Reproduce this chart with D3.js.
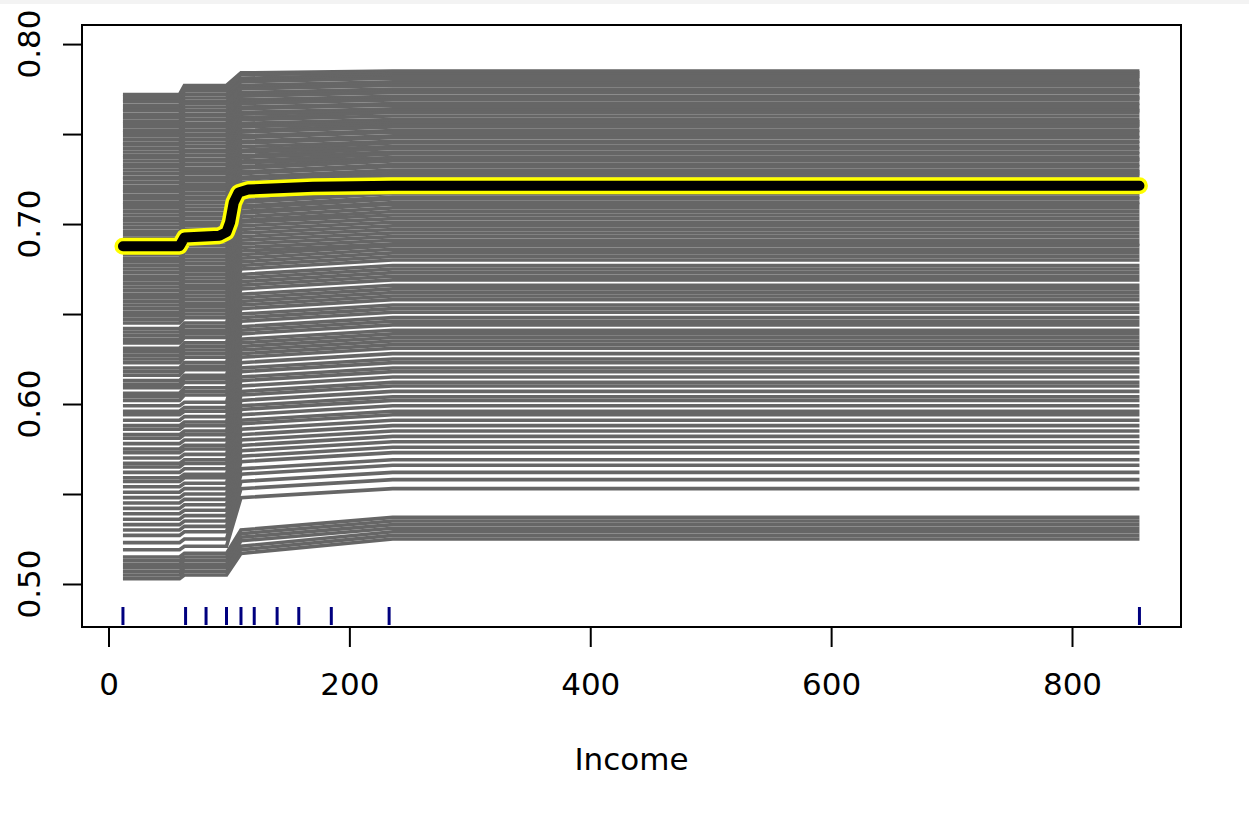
<!DOCTYPE html>
<html>
<head>
<meta charset="utf-8">
<script src="https://cdn.jsdelivr.net/npm/d3@7"></script>
<style>
  body { margin: 0; background: #fff; }
  text { font-family: "DejaVu Sans", sans-serif; }
</style>
</head>
<body>
<div id="ice"></div>
<script>
// income values where the ICE curves change level
const incomeGrid = [12, 59, 63, 98, 110, 236, 856];
// one row per observation: prob at income 12-59, 63-98, 110, 236-856
const iceLevels = [
  [0.772, 0.777, 0.784, 0.785], [0.771, 0.776, 0.783, 0.784], [0.769, 0.774, 0.781, 0.783],
  [0.768, 0.772, 0.780, 0.782], [0.766, 0.770, 0.779, 0.781], [0.764, 0.768, 0.777, 0.779],
  [0.763, 0.767, 0.776, 0.778], [0.761, 0.765, 0.775, 0.777], [0.759, 0.763, 0.773, 0.775],
  [0.757, 0.761, 0.772, 0.774], [0.756, 0.760, 0.771, 0.773], [0.754, 0.758, 0.769, 0.771],
  [0.752, 0.756, 0.768, 0.770], [0.751, 0.754, 0.767, 0.769], [0.749, 0.752, 0.765, 0.767],
  [0.747, 0.750, 0.764, 0.766], [0.745, 0.749, 0.762, 0.764], [0.744, 0.747, 0.761, 0.763],
  [0.742, 0.745, 0.759, 0.762], [0.740, 0.743, 0.758, 0.760], [0.738, 0.741, 0.756, 0.758],
  [0.737, 0.740, 0.755, 0.757], [0.735, 0.738, 0.754, 0.756], [0.733, 0.736, 0.752, 0.755],
  [0.732, 0.735, 0.751, 0.754], [0.730, 0.733, 0.749, 0.752], [0.728, 0.731, 0.748, 0.751],
  [0.726, 0.729, 0.746, 0.749], [0.725, 0.728, 0.745, 0.748], [0.723, 0.726, 0.743, 0.746],
  [0.721, 0.724, 0.741, 0.745], [0.719, 0.722, 0.740, 0.743], [0.718, 0.721, 0.738, 0.742],
  [0.716, 0.719, 0.737, 0.740], [0.714, 0.717, 0.735, 0.739], [0.712, 0.715, 0.734, 0.737],
  [0.711, 0.714, 0.732, 0.736], [0.709, 0.712, 0.731, 0.735], [0.707, 0.710, 0.729, 0.733],
  [0.705, 0.708, 0.728, 0.732], [0.703, 0.706, 0.726, 0.730], [0.702, 0.705, 0.725, 0.729],
  [0.700, 0.703, 0.723, 0.728], [0.698, 0.701, 0.722, 0.727], [0.696, 0.699, 0.721, 0.725],
  [0.694, 0.697, 0.719, 0.724], [0.692, 0.695, 0.718, 0.722], [0.690, 0.693, 0.716, 0.721],
  [0.689, 0.692, 0.715, 0.720], [0.687, 0.690, 0.713, 0.718], [0.685, 0.688, 0.712, 0.717],
  [0.683, 0.686, 0.710, 0.715], [0.681, 0.684, 0.709, 0.714], [0.679, 0.682, 0.707, 0.712],
  [0.677, 0.680, 0.706, 0.711], [0.675, 0.678, 0.704, 0.709], [0.673, 0.676, 0.702, 0.707],
  [0.671, 0.674, 0.701, 0.705], [0.669, 0.672, 0.699, 0.703], [0.667, 0.670, 0.697, 0.701],
  [0.665, 0.668, 0.695, 0.699], [0.663, 0.666, 0.693, 0.697], [0.661, 0.664, 0.691, 0.695],
  [0.659, 0.662, 0.689, 0.693], [0.657, 0.660, 0.687, 0.691], [0.655, 0.658, 0.685, 0.689],
  [0.653, 0.656, 0.683, 0.688], [0.651, 0.654, 0.681, 0.686], [0.649, 0.652, 0.679, 0.684],
  [0.647, 0.650, 0.677, 0.682], [0.645, 0.648, 0.675, 0.680], [0.642, 0.645, 0.672, 0.677],
  [0.640, 0.643, 0.670, 0.675], [0.638, 0.641, 0.668, 0.673], [0.636, 0.639, 0.666, 0.671],
  [0.634, 0.637, 0.664, 0.669], [0.631, 0.634, 0.661, 0.666], [0.629, 0.632, 0.659, 0.664],
  [0.627, 0.630, 0.657, 0.662], [0.625, 0.628, 0.655, 0.660], [0.623, 0.626, 0.653, 0.658],
  [0.620, 0.623, 0.650, 0.655], [0.618, 0.621, 0.648, 0.653], [0.616, 0.619, 0.646, 0.651],
  [0.613, 0.616, 0.643, 0.648], [0.611, 0.614, 0.641, 0.646], [0.609, 0.612, 0.639, 0.644],
  [0.606, 0.609, 0.636, 0.641], [0.604, 0.607, 0.634, 0.639], [0.602, 0.605, 0.632, 0.637],
  [0.599, 0.601, 0.630, 0.635], [0.596, 0.598, 0.628, 0.633], [0.594, 0.596, 0.626, 0.631],
  [0.591, 0.593, 0.623, 0.628], [0.588, 0.590, 0.620, 0.625], [0.586, 0.588, 0.618, 0.623],
  [0.583, 0.585, 0.615, 0.620], [0.581, 0.583, 0.613, 0.618], [0.578, 0.580, 0.610, 0.615],
  [0.575, 0.577, 0.607, 0.612], [0.573, 0.575, 0.605, 0.610], [0.570, 0.572, 0.602, 0.607],
  [0.567, 0.569, 0.599, 0.604], [0.565, 0.567, 0.597, 0.602], [0.562, 0.564, 0.594, 0.599],
  [0.559, 0.561, 0.591, 0.596], [0.557, 0.559, 0.589, 0.594], [0.554, 0.556, 0.586, 0.591],
  [0.551, 0.553, 0.583, 0.588], [0.548, 0.550, 0.580, 0.585], [0.545, 0.547, 0.577, 0.582],
  [0.542, 0.544, 0.574, 0.579], [0.539, 0.541, 0.571, 0.576], [0.536, 0.538, 0.568, 0.573],
  [0.533, 0.535, 0.564, 0.569], [0.530, 0.532, 0.561, 0.566], [0.527, 0.529, 0.557, 0.562],
  [0.523, 0.525, 0.553, 0.558], [0.519, 0.521, 0.548, 0.553],
  [0.515, 0.517, 0.530, 0.537], [0.513, 0.515, 0.528, 0.535], [0.511, 0.513, 0.526, 0.533],
  [0.509, 0.511, 0.524, 0.531], [0.507, 0.509, 0.521, 0.529], [0.505, 0.507, 0.519, 0.527],
  [0.503, 0.505, 0.517, 0.525]
];
// which column of a row is used at each incomeGrid point
const levelAt = [0, 0, 1, 1, 2, 3, 3];

// average curve (black/yellow)
const avgIncome = [12, 59, 63, 92, 98, 101, 104, 108, 116, 170, 236, 856];
const avgProb = [0.6877, 0.6877, 0.6925, 0.6935, 0.6955, 0.701, 0.712, 0.7175, 0.7192, 0.7207, 0.7213, 0.7213];

// deciles of Income for the rug
const rugIncome = [12, 64, 81, 98, 110, 121, 140, 158, 185, 233, 856];

const xTicks = [0, 200, 400, 600, 800];
const yTicks = [0.50, 0.55, 0.60, 0.65, 0.70, 0.75, 0.80];
const yLabels = ["0.50", "", "0.60", "", "0.70", "", "0.80"];

const width = 1249;
const height = 819;
const margin = { top: 25, right: 68, bottom: 192, left: 82 };

const x = d3.scaleLinear().domain([-22, 890.5])
    .range([margin.left, width - margin.right]);
const y = d3.scaleLinear().domain([0.4761, 0.8106])
    .range([height - margin.bottom, margin.top]);

const svg = d3.select("#ice").append("svg")
    .attr("width", width)
    .attr("height", height)
    .attr("viewBox", [0, 0, width, height]);

svg.append("rect")
    .attr("width", width).attr("height", 4)
    .attr("fill", "#f3f3f3");

const line = d3.line().x(d => x(d[0])).y(d => y(d[1]));

// individual curves
svg.append("g")
    .selectAll("path")
    .data(iceLevels)
    .join("path")
    .attr("d", row => line(incomeGrid.map((v, i) => [v, row[levelAt[i]]])))
    .attr("fill", "none")
    .attr("stroke", "#666666")
    .attr("stroke-width", 3.6);

// average curve, yellow halo then black
const avg = avgIncome.map((v, i) => [v, avgProb[i]]);
svg.append("path")
    .attr("d", line(avg))
    .attr("fill", "none")
    .attr("stroke", "#ffff00")
    .attr("stroke-width", 17)
    .attr("stroke-linecap", "round")
    .attr("stroke-linejoin", "round");
svg.append("path")
    .attr("d", line(avg))
    .attr("fill", "none")
    .attr("stroke", "#000")
    .attr("stroke-width", 10)
    .attr("stroke-linecap", "round")
    .attr("stroke-linejoin", "round");

// rug
svg.append("g")
    .selectAll("line")
    .data(rugIncome)
    .join("line")
    .attr("x1", d => x(d)).attr("x2", d => x(d))
    .attr("y1", 607).attr("y2", 625)
    .attr("stroke", "#00007f")
    .attr("stroke-width", 3);

// box
svg.append("rect")
    .attr("x", margin.left).attr("y", margin.top)
    .attr("width", width - margin.right - margin.left)
    .attr("height", height - margin.bottom - margin.top)
    .attr("fill", "none")
    .attr("stroke", "#000")
    .attr("stroke-width", 2);

const xAxis = g => g
    .attr("transform", `translate(0,${height - margin.bottom})`)
    .call(d3.axisBottom(x).tickValues(xTicks).tickSize(20).tickPadding(26))
    .call(g => g.select(".domain").remove())
    .call(g => g.selectAll(".tick line").attr("stroke", "#000").attr("stroke-width", 2))
    .call(g => g.selectAll(".tick text")
        .attr("font-family", "DejaVu Sans")
        .attr("font-size", 31)
        .attr("fill", "#000"));

const yAxis = g => g
    .attr("transform", `translate(${margin.left},0)`)
    .call(d3.axisLeft(y).tickValues(yTicks).tickSize(19).tickFormat(""))
    .call(g => g.select(".domain").remove())
    .call(g => g.selectAll(".tick line").attr("stroke", "#000").attr("stroke-width", 2));

svg.append("g").call(xAxis);
svg.append("g").call(yAxis);

svg.append("g")
    .selectAll("text")
    .data(yTicks)
    .join("text")
    .attr("transform", d => `translate(40,${y(d)}) rotate(-90)`)
    .attr("text-anchor", "middle")
    .attr("font-size", 31)
    .attr("fill", "#000")
    .text((d, i) => yLabels[i]);

svg.append("text")
    .attr("x", (margin.left + width - margin.right) / 2)
    .attr("y", 770)
    .attr("text-anchor", "middle")
    .attr("font-size", 31)
    .attr("fill", "#000")
    .text("Income");
</script>
</body>
</html>
